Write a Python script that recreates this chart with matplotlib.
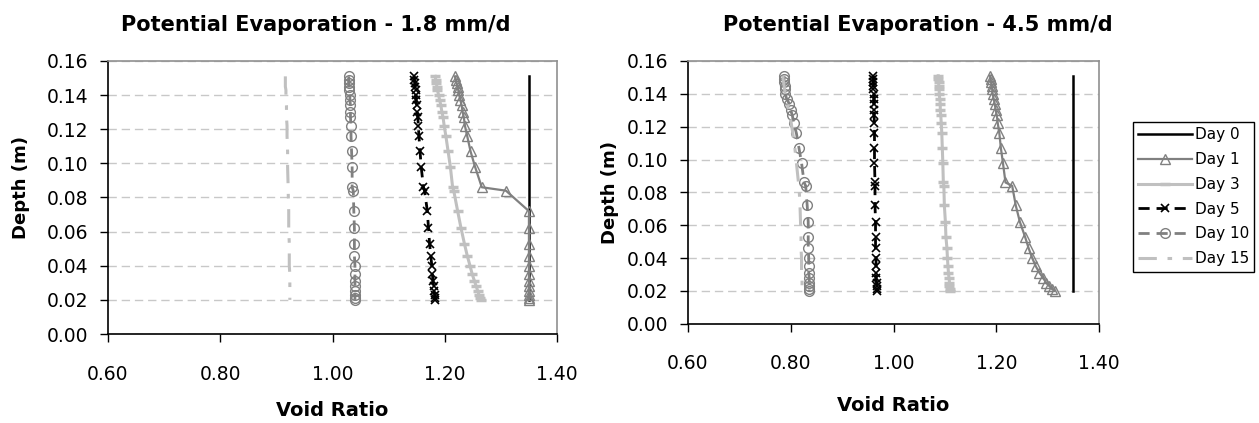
import matplotlib
matplotlib.use("Agg")
import matplotlib.pyplot as plt

# ---------------- data ----------------
depth = [0.151, 0.149, 0.147, 0.145, 0.143, 0.140, 0.137, 0.134, 0.130, 0.127,
         0.122, 0.116, 0.107, 0.098, 0.086, 0.084, 0.072, 0.062, 0.053, 0.046,
         0.040, 0.035, 0.031, 0.028, 0.025, 0.023, 0.021, 0.020]

series_names = ["Day 0", "Day 1", "Day 3", "Day 5", "Day 10", "Day 15"]

# Potential evaporation 1.8 mm/d
left_day0 = [1.35] * 28
left_day1 = [1.218, 1.220, 1.221, 1.223, 1.224, 1.226, 1.228, 1.230, 1.232, 1.234,
             1.236, 1.240, 1.246, 1.254, 1.266, 1.309, 1.350, 1.350, 1.350, 1.350,
             1.350, 1.350, 1.350, 1.350, 1.350, 1.350, 1.350, 1.350]
left_day3 = [1.183, 1.184, 1.185, 1.186, 1.187, 1.189, 1.191, 1.193, 1.195, 1.197,
             1.199, 1.202, 1.206, 1.210, 1.214, 1.216, 1.223, 1.229, 1.235, 1.240,
             1.245, 1.249, 1.253, 1.256, 1.259, 1.261, 1.263, 1.264]
left_day5 = [1.146, 1.146, 1.147, 1.147, 1.148, 1.148, 1.149, 1.150, 1.151, 1.152,
             1.153, 1.154, 1.156, 1.158, 1.162, 1.164, 1.169, 1.171, 1.173, 1.175,
             1.177, 1.178, 1.179, 1.180, 1.181, 1.182, 1.183, 1.183]
left_day10 = [1.029, 1.029, 1.029, 1.030, 1.030, 1.031, 1.031, 1.032, 1.032, 1.032,
              1.033, 1.033, 1.034, 1.035, 1.035, 1.037, 1.038, 1.039, 1.039, 1.039,
              1.040, 1.040, 1.040, 1.040, 1.040, 1.040, 1.040, 1.040]
left_day15 = [0.916, 0.916, 0.916, 0.916, 0.917, 0.917, 0.917, 0.918, 0.918, 0.918,
              0.919, 0.919, 0.920, 0.920, 0.921, 0.921, 0.922, 0.922, 0.923, 0.923,
              0.923, 0.924, 0.924, 0.924, 0.924, 0.924, 0.924, 0.924]

# Potential evaporation 4.5 mm/d
right_day0 = [1.35] * 28
right_day1 = [1.188, 1.189, 1.190, 1.191, 1.192, 1.193, 1.195, 1.197, 1.199, 1.201,
              1.203, 1.206, 1.209, 1.213, 1.218, 1.231, 1.238, 1.246, 1.256, 1.263,
              1.270, 1.277, 1.284, 1.291, 1.297, 1.303, 1.309, 1.314]
right_day3 = [1.087, 1.087, 1.088, 1.088, 1.089, 1.089, 1.090, 1.091, 1.091, 1.092,
              1.093, 1.094, 1.095, 1.096, 1.097, 1.098, 1.099, 1.101, 1.102, 1.104,
              1.105, 1.106, 1.107, 1.108, 1.109, 1.109, 1.110, 1.110]
right_day5 = [0.961, 0.961, 0.961, 0.961, 0.961, 0.962, 0.962, 0.962, 0.962, 0.962,
              0.963, 0.963, 0.963, 0.963, 0.964, 0.964, 0.964, 0.965, 0.965, 0.965,
              0.966, 0.966, 0.966, 0.966, 0.967, 0.967, 0.967, 0.967]
right_day10 = [0.787, 0.787, 0.787, 0.788, 0.788, 0.789, 0.792, 0.797, 0.800, 0.803,
               0.806, 0.811, 0.816, 0.821, 0.826, 0.829, 0.832, 0.834, 0.834, 0.834,
               0.835, 0.835, 0.835, 0.836, 0.836, 0.836, 0.836, 0.836]
right_day15 = [0.785, 0.785, 0.786, 0.787, 0.788, 0.789, 0.791, 0.793, 0.796, 0.798,
               0.801, 0.804, 0.808, 0.811, 0.815, 0.816, 0.818, 0.819, 0.820, 0.820,
               0.821, 0.821, 0.821, 0.822, 0.822, 0.822, 0.822, 0.822]

x_ticks = [0.60, 0.80, 1.00, 1.20, 1.40]
y_ticks = [0.00, 0.02, 0.04, 0.06, 0.08, 0.10, 0.12, 0.14, 0.16]
titles = ["Potential Evaporation - 1.8 mm/d", "Potential Evaporation - 4.5 mm/d"]

# ---------------- styles ----------------
styles = [
    dict(color="black", lw=1.8, ls="-", marker=None),
    dict(color="#808080", lw=1.6, ls="-", marker="^", ms=6.5, mfc="none", mec="#808080", mew=1.0),
    dict(color="#c0c0c0", lw=2.2, ls="-", marker="_", ms=7, mec="#c0c0c0", mew=2.5),
    dict(color="black", lw=2.0, ls=(0, (4, 2.5)), marker="x", ms=6, mec="black", mew=1.2),
    dict(color="#808080", lw=2.0, ls=(0, (4, 2.5)), marker="o", ms=7, mfc="none", mec="#808080", mew=1.0),
    dict(color="#c0c0c0", lw=2.2, ls=(0, (6, 3.5, 1.5, 3.5)), marker=None),
]

W, H = 1259, 423
fig = plt.figure(figsize=(W / 100, H / 100), dpi=100)
fig.patch.set_facecolor("white")

axL = fig.add_axes([108 / W, 1 - 334 / H, 449 / W, 273 / H])
axR = fig.add_axes([688 / W, 1 - 323.7 / H, 411 / W, 262.7 / H])

panels = [
    (axL, [left_day0, left_day1, left_day3, left_day5, left_day10, left_day15]),
    (axR, [right_day0, right_day1, right_day3, right_day5, right_day10, right_day15]),
]

handles = []
for ax, data in panels:
    hs = []
    for name, vals, st in zip(series_names, data, styles):
        h, = ax.plot(vals, depth, label=name, **st)
        hs.append(h)
    handles = hs
    ax.set_xlim(0.6, 1.4)
    ax.set_ylim(0.0, 0.16)
    ax.set_xticks(x_ticks)
    ax.set_xticklabels([f"{v:.2f}" for v in x_ticks])
    ax.set_yticks(y_ticks)
    ax.set_yticklabels([f"{v:.2f}" for v in y_ticks])
    ax.yaxis.grid(True, color="#c8c8c8", linestyle=(0, (6, 3.5)), linewidth=1.0)
    ax.set_axisbelow(True)
    for s in ["left", "bottom"]:
        ax.spines[s].set_color("black")
        ax.spines[s].set_linewidth(1.2)
    for s in ["top", "right"]:
        ax.spines[s].set_color("#909090")
        ax.spines[s].set_linewidth(1.2)
    ax.tick_params(axis="x", direction="out", length=6, width=1, labelsize=13.5, pad=16)
    ax.tick_params(axis="y", direction="out", length=6, width=1, labelsize=13.5, pad=8)

# titles and axis labels
fig.text(316 / W, 1 - 25 / H, titles[0], ha="center", va="center", fontsize=15, fontweight="bold")
fig.text(918 / W, 1 - 25 / H, titles[1], ha="center", va="center", fontsize=15, fontweight="bold")
fig.text(332 / W, 1 - 410 / H, "Void Ratio", ha="center", va="center", fontsize=14, fontweight="bold")
fig.text(893.5 / W, 1 - 405 / H, "Void Ratio", ha="center", va="center", fontsize=14, fontweight="bold")
fig.text(21 / W, 1 - 187 / H, "Depth (m)", ha="center", va="center", rotation=90, fontsize=13, fontweight="bold")
fig.text(610 / W, 1 - 192 / H, "Depth (m)", ha="center", va="center", rotation=90, fontsize=13, fontweight="bold")

leg = fig.legend(handles, series_names, loc="upper left",
                 bbox_to_anchor=(1133 / W, 1 - 122 / H), borderaxespad=0,
                 fontsize=11, handlelength=3.5, numpoints=1, labelspacing=0.64,
                 handletextpad=0.2, borderpad=0.35, fancybox=False, framealpha=1,
                 edgecolor="black")
leg.get_frame().set_linewidth(1.0)

fig.savefig("out.png", dpi=100, facecolor="white")
